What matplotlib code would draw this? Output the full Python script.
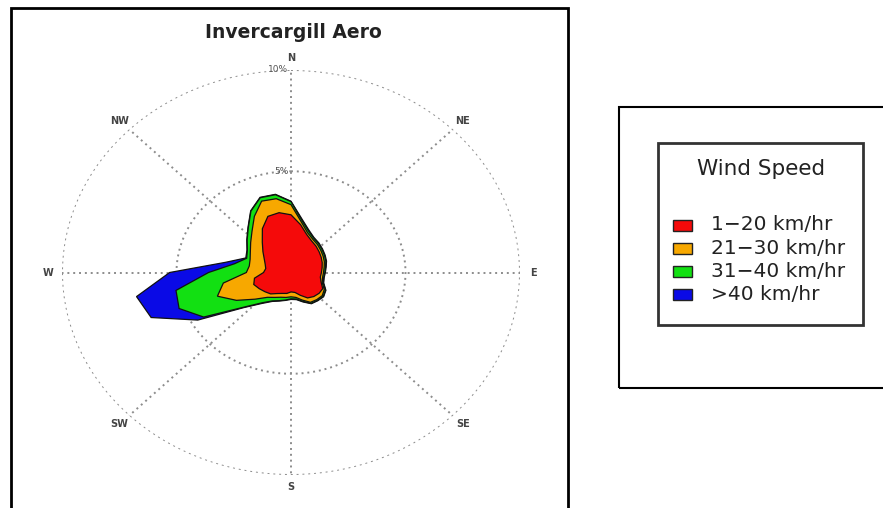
import numpy as np
import matplotlib.pyplot as plt
from matplotlib.patches import Rectangle

# wind directions, degrees clockwise from north
directions = np.arange(0, 360, 10)

# cumulative frequency (%) for each speed band, one value per direction
speed_1_20 = [2.85, 2.4, 2.0, 1.8, 1.7, 1.6, 1.52, 1.45, 1.38, 1.33, 1.3, 1.4,
              1.6, 1.6, 1.55, 1.45, 1.2, 1.0, 0.96, 1.05, 1.1, 1.2, 1.38, 1.48,
              1.6, 1.73, 1.62, 1.2, 1.12, 1.2, 1.35, 1.6, 1.95, 2.5, 2.95, 3.0]
speed_21_30 = [3.35, 2.55, 2.1, 1.9, 1.8, 1.7, 1.62, 1.55, 1.47, 1.42, 1.4, 1.45,
               1.68, 1.78, 1.75, 1.7, 1.45, 1.25, 1.2, 1.25, 1.3, 1.42, 1.6, 2.05,
               2.75, 3.42, 3.0, 1.95, 1.85, 1.9, 2.05, 2.3, 2.65, 3.2, 3.75, 3.7]
speed_31_40 = [3.5, 2.65, 2.2, 1.97, 1.87, 1.77, 1.69, 1.62, 1.53, 1.48, 1.45, 1.5,
               1.74, 1.84, 1.8, 1.76, 1.52, 1.33, 1.3, 1.38, 1.48, 1.62, 1.95, 2.65,
               4.4, 5.2, 5.1, 3.6, 2.5, 2.06, 2.2, 2.5, 2.9, 3.5, 3.93, 3.9]
speed_40_up = [3.52, 2.7, 2.25, 2.0, 1.9, 1.8, 1.72, 1.65, 1.56, 1.5, 1.47, 1.52,
               1.76, 1.86, 1.82, 1.78, 1.55, 1.36, 1.33, 1.4, 1.5, 1.65, 2.0, 2.7,
               4.7, 6.5, 6.85, 5.3, 2.9, 2.1, 2.22, 2.52, 2.92, 3.52, 3.95, 3.92]

band_labels = ["1\u221220 km/hr", "21\u221230 km/hr", "31\u221240 km/hr", ">40 km/hr"]
band_colors = ["#f50a0a", "#f7a800", "#12e012", "#0a0ae6"]
bands = [speed_1_20, speed_21_30, speed_31_40, speed_40_up]

compass = ["N", "NE", "E", "SE", "S", "SW", "W", "NW"]
ring_values = [5, 10]

W, H = 883, 508
fig = plt.figure(figsize=(W / 100, H / 100), dpi=100)


def fx(px):
    return px / W


def fy(py):
    return 1 - py / H


# outer frames
fig.add_artist(Rectangle((fx(11), fy(515)), fx(568) - fx(11), fy(8) - fy(515),
                         transform=fig.transFigure, fill=False, lw=2, ec="black"))
fig.add_artist(Rectangle((fx(619), fy(388)), fx(890) - fx(619), fy(107) - fy(388),
                         transform=fig.transFigure, fill=False, lw=1.5, ec="black"))

# rose axes (stretched horizontally like the original)
ax = fig.add_axes([fx(62), fy(475), fx(520) - fx(62), fy(70) - fy(475)], projection="polar")
ax.set_aspect("auto")
ax.set_theta_zero_location("N")
ax.set_theta_direction(-1)
ax.set_rlim(0, 10)
ax.grid(False)
ax.set_xticks([])
ax.set_yticks([])
ax.spines["polar"].set_visible(False)

dots = (0, (1, 2))
theta_ring = np.radians(np.linspace(0, 360, 361))
for rv in ring_values:
    ax.plot(theta_ring, np.full_like(theta_ring, rv), ls=dots, lw=1.4, color="#8c8c8c", zorder=1)
for i, name in enumerate(compass):
    a = np.radians(i * 45)
    ax.plot([a, a], [0, 10], ls=dots, lw=1.4, color="#8c8c8c", zorder=1)
    ax.text(a, 10.6, name, ha="center", va="center", fontsize=7, color="#444444", fontweight="bold")

for rv in ring_values:
    ax.annotate(f"{rv}%", xy=(0, rv), xytext=(-2, 0), textcoords="offset points",
                ha="right", va="center", fontsize=6.5, color="#555555")

# stacked bands, outermost first
th = np.radians(np.append(directions, directions[0]))
for vals, col in reversed(list(zip(bands, band_colors))):
    r = np.append(vals, vals[0])
    ax.fill(th, r, facecolor=col, edgecolor="#111111", lw=0.9, zorder=3)

fig.text(fx(293), fy(33), "Invercargill Aero", ha="center", va="center",
         fontsize=13.5, fontweight="bold", color="#222222")

# legend
fig.add_artist(Rectangle((fx(658), fy(325)), fx(863) - fx(658), fy(143) - fy(325),
                         transform=fig.transFigure, fill=False, lw=2, ec="#333333"))
fig.text(fx(761), fy(169), "Wind Speed", ha="center", va="center", fontsize=15.5, color="#222222")
for i, (lab, col) in enumerate(zip(band_labels, band_colors)):
    yc = 225 + i * 23.2
    fig.add_artist(Rectangle((fx(673), fy(yc + 5.5)), fx(692) - fx(673), fy(yc - 5.5) - fy(yc + 5.5),
                             transform=fig.transFigure, fc=col, ec="#222222", lw=1))
    fig.text(fx(711), fy(yc), lab, ha="left", va="center", fontsize=14.5, color="#222222")

fig.savefig("out.png", dpi=100)
